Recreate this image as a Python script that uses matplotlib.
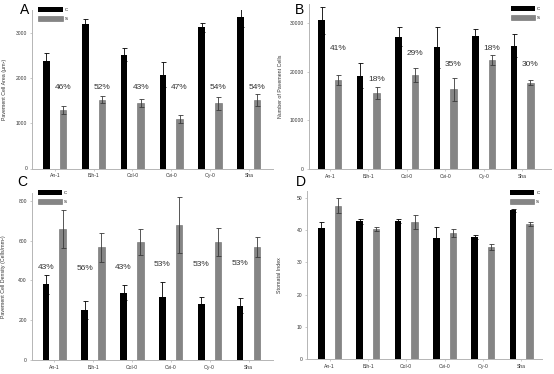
import numpy as np
import matplotlib
matplotlib.use('Agg')
import matplotlib.pyplot as plt

plt.rcParams['font.family'] = ['Liberation Sans', 'DejaVu Sans']

###############################################################################
# data
genotypes = ['An-1', 'Blh-1', 'Col-0', 'Cvi-0', 'Oy-0', 'Sha']

# A - pavement cell area
area_c = [2380, 3200, 2520, 2075, 3125, 3355]
area_c_err = [170, 115, 140, 275, 100, 220]
area_s = [1290, 1525, 1445, 1095, 1445, 1520]
area_s_err = [95, 70, 95, 80, 145, 135]
area_pct = ['46%', '52%', '43%', '47%', '54%', '54%']
area_pct_y = [1800, 1800, 1800, 1800, 1800, 1800]

# B - number of pavement cells
num_c = [30700, 19200, 27300, 25100, 27400, 25400]
num_c_err = [2800, 2600, 2000, 4200, 1400, 2400]
num_s = [18300, 15700, 19400, 16400, 22500, 17800]
num_s_err = [1100, 1200, 1500, 2400, 1000, 500]
num_pct = ['41%', '18%', '29%', '35%', '18%', '30%']
num_pct_y = [24900, 18500, 23800, 21600, 24900, 21600]

# C - pavement cell density
dens_c = [380, 250, 338, 318, 282, 271]
dens_c_err = [47, 46, 38, 72, 32, 38]
dens_s = [659, 566, 592, 677, 595, 568]
dens_s_err = [94, 74, 65, 141, 70, 50]
dens_pct = ['43%', '56%', '43%', '53%', '53%', '53%']
dens_pct_y = [466, 458, 466, 481, 481, 486]

# D - stomatal index
si_c = [40.7, 42.7, 42.8, 37.5, 37.8, 46.1]
si_c_err = [1.7, 0.7, 0.7, 3.3, 0.6, 0.5]
si_s = [47.5, 40.3, 42.5, 39.2, 34.7, 41.8]
si_s_err = [2.3, 0.5, 2.2, 1.2, 1.0, 0.6]

###############################################################################
W, H = 554, 374
fig = plt.figure(figsize=(W / 100, H / 100), dpi=100)


def px_axes(l, r, t, b):
    # pixel box -> figure fraction
    return fig.add_axes([l / W, 1 - b / H, (r - l) / W, (b - t) / H])


gray = '#858585'
off = 0.215
bw = 0.17
x = np.arange(len(genotypes))


def panel(ax, cv, ce, sv, se, ylim, yticks, ylabel, xlim, leg_xy):
    ax.bar(x - off, cv, bw, color='black', label='C', zorder=2)
    ax.bar(x + off, sv, bw, color=gray, edgecolor='#6a6a6a', linewidth=0.4,
           label='S', zorder=2)
    ax.errorbar(x - off, cv, yerr=ce, fmt='none', ecolor='black',
                elinewidth=0.6, capsize=1.8, capthick=0.6, zorder=3)
    ax.errorbar(x + off, sv, yerr=se, fmt='none', ecolor='#3a3a3a',
                elinewidth=0.6, capsize=1.8, capthick=0.6, zorder=3)
    ax.set_xlim(*xlim)
    ax.set_ylim(*ylim)
    ax.set_yticks(yticks)
    ax.set_xticks(x)
    ax.set_xticklabels(genotypes)
    for s in ['top', 'right']:
        ax.spines[s].set_visible(False)
    for s in ['left', 'bottom']:
        ax.spines[s].set_color('#b5b5b5')
        ax.spines[s].set_linewidth(0.7)
    ax.tick_params(axis='both', labelsize=3.6, colors='#b5b5b5',
                   labelcolor='#333333', length=1.5, width=0.5, pad=2)
    ax.set_ylabel(ylabel, fontsize=3.8, color='#333333')
    ax.yaxis.set_label_coords(-0.105, 0.5)
    ax.legend(loc='upper left', bbox_to_anchor=leg_xy, frameon=False,
              fontsize=3.2, handlelength=5.5, handleheight=1.45,
              labelspacing=0.8, handletextpad=0.4, borderpad=0,
              borderaxespad=0)


axA = px_axes(32.3, 273.3, 10.3, 168.5)
panel(axA, area_c, area_c_err, area_s, area_s_err, (0, 3500),
      [0, 1000, 2000, 3000], 'Pavement Cell Area (\u03bcm\u00b2)',
      (-0.58, 5.63), (0.024, 1.02))
for i, t in enumerate(area_pct):
    axA.text(x[i] + off, area_pct_y[i], t, ha='center', va='center',
             fontsize=6, color='#333333')

axB = px_axes(308.7, 551, 4.1, 168.7)
panel(axB, num_c, num_c_err, num_s, num_s_err, (0, 34000),
      [0, 10000, 20000, 30000], 'Number of Pavement Cells',
      (-0.55, 5.75), (0.834, 0.988))
for i, t in enumerate(num_pct):
    axB.text(x[i] + off, num_pct_y[i], t, ha='center', va='center',
             fontsize=6, color='#333333')

axC = px_axes(31.7, 273, 193, 359.7)
panel(axC, dens_c, dens_c_err, dens_s, dens_s_err, (0, 840),
      [0, 200, 400, 600, 800], 'Pavement Cell Density (Cells/mm\u00b2)',
      (-0.58, 5.63), (0.026, 1.018))
for i, t in enumerate(dens_pct):
    axC.text(x[i] - off, dens_pct_y[i], t, ha='center', va='center',
             fontsize=6, color='#333333')

axD = px_axes(307, 542, 191.3, 359.3)
panel(axD, si_c, si_c_err, si_s, si_s_err, (0, 52),
      [0, 10, 20, 30, 40, 50], 'Stomatal Index',
      (-0.59, 5.54), (0.864, 1.008))

# panel letters
for lab, px, py in [('A', 20, 3), ('B', 295, 3), ('C', 17, 175), ('D', 296, 175)]:
    fig.text(px / W, 1 - py / H, lab, fontsize=10, ha='left', va='top',
             color='black')

fig.savefig('out.png', dpi=100)
